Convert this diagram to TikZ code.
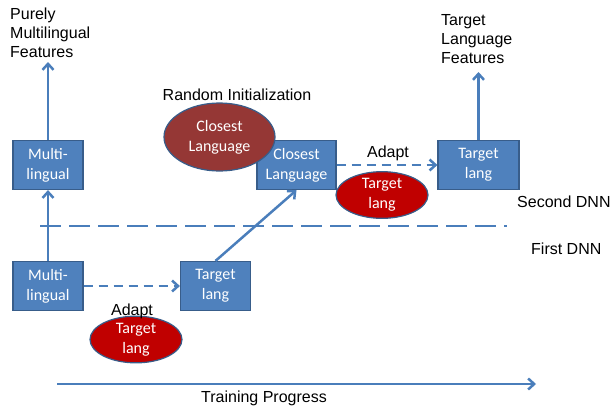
\documentclass[tikz,border=0pt]{standalone}
\usepackage{fontspec}
\setmainfont{Liberation Sans}
\newfontfamily\boxfont{Carlito}
\usetikzlibrary{arrows.meta,shapes.geometric}
\definecolor{boxfill}{HTML}{4F81BD}
\definecolor{boxline}{HTML}{385D8A}
\definecolor{arrowblue}{HTML}{4A7EBB}
\definecolor{closered}{HTML}{953735}
\definecolor{targred}{HTML}{C00000}
\begin{document}
\begin{tikzpicture}[x=1pt,y=-1pt,
  netbox/.style={draw=boxline,line width=1.2pt,fill=boxfill,minimum width=70pt,minimum height=49pt,inner sep=1pt,align=center,text=white,font=\boxfont\fontsize{16}{20}\selectfont},
  blob/.style={ellipse,draw=boxline,line width=1.2pt,inner sep=0pt,align=center,text=white,font=\boxfont\fontsize{16}{20}\selectfont},
  lbl/.style={font=\fontsize{16}{19}\selectfont,text=black,align=left,inner sep=0pt},
  conn/.style={draw=arrowblue,line width=2.5pt,-{Straight Barb[length=6pt,width=11pt]}},
  dconn/.style={conn,dash pattern=on 9pt off 6pt}]
\useasboundingbox (0,0) rectangle (612,407);
% boxes
\node[netbox] (mltop) at (48,165) {Multi-\\lingual};
\node[netbox] (mlbot) at (48,286) {Multi-\\lingual};
\node[netbox] (tlbot) at (215.5,286) {Target\\lang};
\node[netbox,minimum width=79pt] (cl) at (296.5,165) {Closest\\Language};
\node[netbox,minimum width=81pt] (tltop) at (478.5,165) {Target\\lang};
% ellipses
\node[blob,fill=closered,minimum width=111pt,minimum height=68pt] (clell) at (219.5,137) {Closest\\Language};
\node[blob,fill=targred,minimum width=92pt,minimum height=44pt] (tlell1) at (382,195) {Target\\lang};
\node[blob,fill=targred,minimum width=92pt,minimum height=43pt] (tlell2) at (136,339.5) {Target\\lang};
% labels
\node[lbl,anchor=north west] (pmf) at (10,8) {Purely\\Multilingual\\Features};
\node[lbl,anchor=north west] (tlf) at (441,14) {Target\\Language\\Features};
\node[lbl,anchor=base] (rinit) at (237,100) {Random Initialization};
\node[lbl,anchor=base] (adapt1) at (388,157) {Adapt};
\node[lbl,anchor=base] (adapt2) at (132,315) {Adapt};
\node[lbl,anchor=base west] (sdnn) at (517,207) {Second DNN};
\node[lbl,anchor=base west] (fdnn) at (531,254) {First DNN};
\node[lbl,anchor=base] (tp) at (264,402) {Training Progress};
% connectors
\coordinate (pmfend) at (48,62);
\coordinate (tlfend) at (478.5,72);
\draw[conn] (mltop.north) -- (pmfend);
\draw[conn] (mlbot.north) -- (mltop.south);
\draw[dconn] (mlbot.east) -- (tlbot.west);
\draw[conn] (tlbot.north) -- (cl.south);
\draw[dconn] (cl.east) -- (tltop.west);
\draw[conn] (tltop.north) -- (tlfend);
% divider
\coordinate (d1) at (40,226);
\coordinate (d2) at (507,226);
\draw[draw=arrowblue,line width=2.5pt,dash pattern=on 21pt off 8pt] (d1) -- (d2);
% progress
\coordinate (p1) at (57,384);
\coordinate (p2) at (536,384);
\draw[conn] (p1) -- (p2);
\end{tikzpicture}
\end{document}
